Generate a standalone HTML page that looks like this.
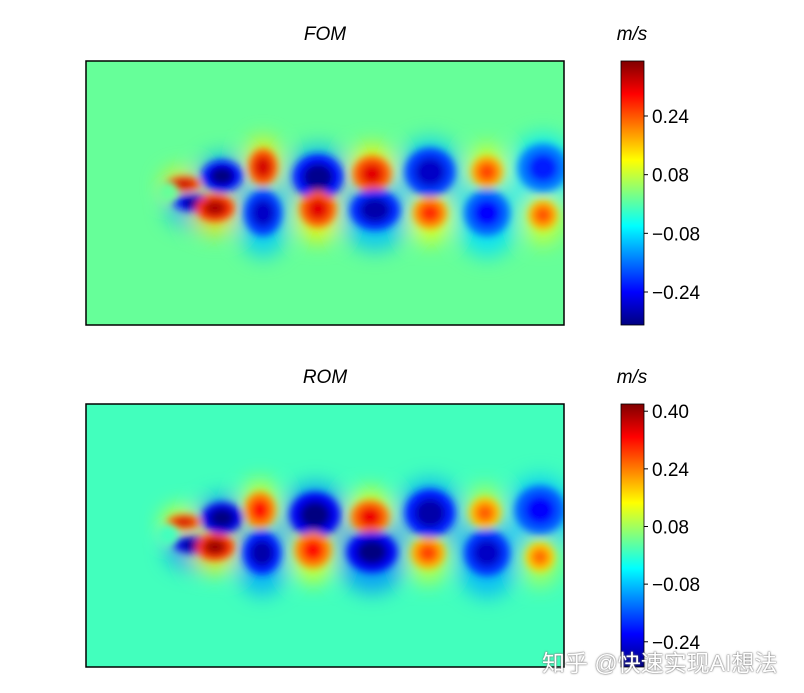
<!DOCTYPE html>
<html><head><meta charset="utf-8"><style>
html,body{margin:0;padding:0;background:#fff;width:804px;height:693px;overflow:hidden}
svg{display:block;font-family:"Liberation Sans","DejaVu Sans",sans-serif}
.wm{position:absolute;left:542px;top:644px;font:23px "Liberation Sans","Noto Sans CJK SC",sans-serif;color:#fff;text-shadow:0 0 2px #777,0 0 1px #555;white-space:nowrap}
</style></head><body>
<svg id="fig" width="804" height="693">
<defs>
<filter id="blur" x="-50%" y="-50%" width="200%" height="200%"><feGaussianBlur stdDeviation="4"/></filter>
<filter id="blurBig" x="-50%" y="-50%" width="200%" height="200%"><feGaussianBlur stdDeviation="10"/></filter>
<clipPath id="clipTop"><rect x="86" y="61" width="478" height="264"/></clipPath>
<clipPath id="clipBot"><rect x="86" y="404" width="478" height="263"/></clipPath>
</defs>
</svg>
<div class="wm">知乎 @快速实现AI想法</div>
<script>
// Vortex data (top: FOM)
const fomX   = [184,222,195,263,318,372,430,487,543, 215,263,318,375,430,487,543];
const fomY   = [184,176,203,167,177,174,172,172,168, 208,213,209,210,213,213,215];
const fomVal = [0.34,-0.33,-0.33,0.33,-0.32,0.32,-0.28,0.25,-0.22, 0.36,-0.28,0.32,-0.30,0.27,-0.24,0.24];
const fomRx  = [14,17,18,12,21,16,21,13,21, 16,16,15,21,14,19,12];
const fomRy  = [6,13,7,15,19,15,20,13,20, 11,19,15,17,13,19,12];
// Vortex data (bottom: ROM)
const romX   = [184,222,195,260,315,370,430,485,540, 215,262,313,372,428,487,540];
const romY   = [522,518,545,510,515,517,513,513,510, 547,553,550,552,553,553,557];
const romVal = [0.36,-0.33,-0.33,0.32,-0.32,0.34,-0.28,0.26,-0.22, 0.40,-0.28,0.32,-0.32,0.28,-0.26,0.25];
const romRx  = [14,17,18,13,21,16,21,13,21, 16,16,15,21,14,19,12];
const romRy  = [6,13,7,15,19,14,20,13,20, 11,18,15,17,13,19,12];
const fomTicks = [0.24,0.08,-0.08,-0.24];
const romTicks = [0.40,0.24,0.08,-0.08,-0.24];
const tickLabels = v => (v<0?'\u2212':'')+Math.abs(v).toFixed(2);

const NS='http://www.w3.org/2000/svg';
const svg=document.getElementById('fig');
function mk(tag,attrs,parent){const e=document.createElementNS(NS,tag);for(const k in attrs)e.setAttribute(k,attrs[k]);(parent||svg).appendChild(e);return e;}
function jet(t){t=Math.max(0,Math.min(1,t));const c=x=>Math.round(255*Math.max(0,Math.min(1,1.5-Math.abs(x))));return `rgb(${c(4*t-3)},${c(4*t-2)},${c(4*t-1)})`;}

function panel(name,title,top,h,vmin,vmax,bgVal,X,Y,V,RX,RY,ticks,clip){
  const norm=v=>(v-vmin)/(vmax-vmin);
  const g=mk('g',{'clip-path':`url(#${clip})`});
  
  
  mk('rect',{x:86,y:top,width:478,height:h,fill:jet(norm(bgVal))},g);
  const hal=mk('g',{filter:'url(#blurBig)'},g);
  for(let i=0;i<X.length;i++){
    const e=mk('ellipse',{cx:X[i],cy:Y[i]+(V[i]<0?6:2),rx:RX[i]*1.6,ry:RY[i]*1.6+8,fill:jet(norm(bgVal+(V[i]-bgVal)*0.38)),opacity:0.85},hal);
    
    
  }
  const mid=mk('g',{filter:'url(#blur)'},g);
  for(let i=0;i<X.length;i++){
    const e=mk('ellipse',{cx:X[i],cy:Y[i],rx:RX[i]*1.2,ry:RY[i]*1.2,fill:jet(norm(bgVal+(V[i]-bgVal)*0.72))},mid);
    
    
    const c=mk('ellipse',{cx:X[i],cy:Y[i],rx:RX[i]*0.72,ry:RY[i]*0.72,fill:jet(norm(V[i]))},mid);
    
    
  }
  const cyl=mk('circle',{cx:168,cy:top+131,r:10,fill:jet(norm(bgVal)),filter:'url(#blur)'},g);
  
  
  const fr=mk('rect',{x:86,y:top,width:478,height:h,fill:'none',stroke:'#000','stroke-width':1.5});
  
  
  const t=mk('text',{x:325,y:top-21,'font-size':19,'font-style':'italic','text-anchor':'middle'});
  t.textContent=title;
  
  
  const gid='cb'+name;
  const lg=mk('linearGradient',{id:gid,x1:0,y1:1,x2:0,y2:0},svg.querySelector('defs'));
  for(let s=0;s<=8;s++)mk('stop',{offset:s/8,'stop-color':jet(s/8)},lg);
  const cb=mk('rect',{x:621,y:top,width:23,height:h,fill:`url(#${gid})`,stroke:'#000','stroke-width':0.8});
  
  
  const u=mk('text',{x:632,y:top-21,'font-size':19,'font-style':'italic','text-anchor':'middle'});
  u.textContent='m/s';
  
  
  const ys=v=>top+h-(v-vmin)/(vmax-vmin)*h;
  ticks.forEach(v=>{
    mk('line',{x1:644,x2:648,y1:ys(v),y2:ys(v),stroke:'#000'});
    const tl=mk('text',{x:652,y:ys(v)+7,'font-size':19});
    tl.textContent=tickLabels(v);
    
    
  });
}
panel('fom','FOM',61,264,-0.33,0.39,0.012,fomX,fomY,fomVal,fomRx,fomRy,fomTicks,'clipTop');
panel('rom','ROM',404,263,-0.31,0.42,0.011,romX,romY,romVal,romRx,romRy,romTicks,'clipBot');
</script>
</body></html>
